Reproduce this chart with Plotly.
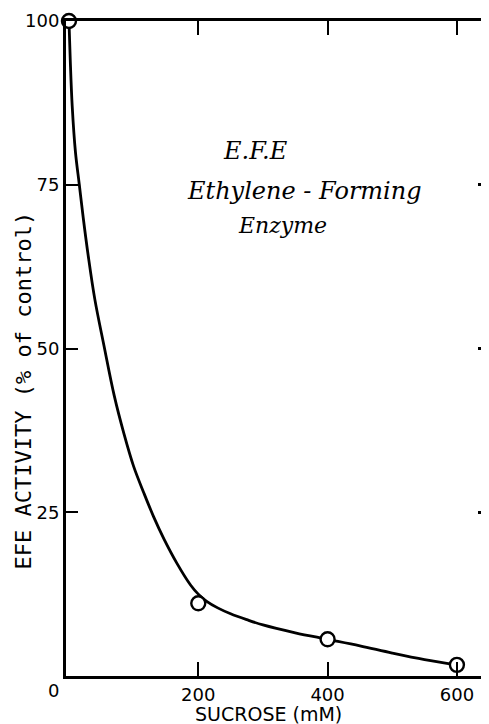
import plotly.graph_objects as go

# measured points (sucrose mM, EFE activity % of control)
sucrose = [0, 200, 400, 600]
activity = [100, 11.1, 5.6, 1.7]

# hand-drawn fit curve
curve_x = [0, 2, 5, 10, 16, 22, 30, 40, 54, 70, 85, 100, 116, 131, 147,
           167, 188, 200, 213, 230, 250, 275, 300, 350, 400, 450, 500, 550, 600]
curve_y = [100, 94, 87, 80, 75, 70, 64, 57.5, 50.5, 42.8, 37, 32, 27.9,
           24.3, 20.9, 17.2, 13.9, 12.5, 11.4, 10.4, 9.5, 8.6, 7.8, 6.6,
           5.6, 4.6, 3.5, 2.5, 1.7]

x_ticks = [200, 400, 600]
y_ticks = [25, 50, 75, 100]
y_ticks_right = [25, 50, 75]

font = "DejaVu Sans"
mono = "DejaVu Sans Mono"
hand = "DejaVu Serif"

fig = go.Figure()

fig.add_trace(go.Scatter(
    x=curve_x, y=curve_y, mode="lines",
    line=dict(color="black", width=2.8, shape="spline", smoothing=1),
    hoverinfo="skip", cliponaxis=False
))

fig.add_trace(go.Scatter(
    x=sucrose, y=activity, mode="markers",
    marker=dict(size=14, color="white", line=dict(color="black", width=2.4)),
    cliponaxis=False
))

# invisible trace to hang the right-side tick marks on
fig.add_trace(go.Scatter(x=[0], y=[0], yaxis="y2", mode="markers",
                         marker=dict(opacity=0), hoverinfo="skip"))

# page body has an 8px margin, so the figure is a bit smaller than the window
fig.update_layout(
    width=481, height=716,
    margin=dict(l=58, r=3, t=13, b=48),
    paper_bgcolor="white", plot_bgcolor="white",
    showlegend=False,
    font=dict(family=font, color="black", size=18),
    xaxis=dict(
        range=[-4.6, 645], showgrid=False, zeroline=False,
        showline=True, linecolor="black", linewidth=3, mirror="ticks",
        ticks="inside", ticklen=14, tickwidth=2.2, tickcolor="black",
        tickvals=x_ticks, ticktext=[str(v) for v in x_ticks],
        tickfont=dict(size=18, family=font),
    ),
    yaxis=dict(
        range=[0, 100], showgrid=False, zeroline=False,
        showline=True, linecolor="black", linewidth=3,
        ticks="inside", ticklen=12, tickwidth=2.2, tickcolor="black",
        tickvals=y_ticks, ticktext=[str(v) for v in y_ticks],
        tickfont=dict(size=18, family=font),
    ),
    yaxis2=dict(
        range=[0, 100], overlaying="y", side="right",
        showgrid=False, zeroline=False, showline=False,
        ticks="inside", ticklen=8, tickwidth=2.5, tickcolor="black",
        tickvals=y_ticks_right, showticklabels=False,
    ),
)

# axis titles and the corner zero
fig.add_annotation(x=0, y=0.436, xref="paper", yref="paper",
                   text="EFE ACTIVITY (% of control)", textangle=-90,
                   showarrow=False, xanchor="center", yanchor="middle",
                   xshift=-43, font=dict(size=22, family=mono))
fig.add_annotation(x=308, y=0, yref="paper", text="SUCROSE (mM)",
                   showarrow=False, xanchor="center", yanchor="middle",
                   yshift=-38, font=dict(size=19, family=font))
fig.add_annotation(x=0, y=0, xref="paper", yref="paper", text="0",
                   showarrow=False, xanchor="center", yanchor="middle",
                   xshift=-13, yshift=-14, font=dict(size=18, family=font))

# handwritten note
fig.add_annotation(x=288, y=80.2, text="E.F.E", showarrow=False,
                   xanchor="center", yanchor="middle",
                   font=dict(size=24, family=hand, style="italic"))
fig.add_annotation(x=365, y=74.1, text="Ethylene - Forming", showarrow=False,
                   xanchor="center", yanchor="middle",
                   font=dict(size=24, family=hand, style="italic"))
fig.add_annotation(x=331, y=68.8, text="Enzyme", showarrow=False,
                   xanchor="center", yanchor="middle",
                   font=dict(size=22, family=hand, style="italic"))

fig.write_html("out.html")
